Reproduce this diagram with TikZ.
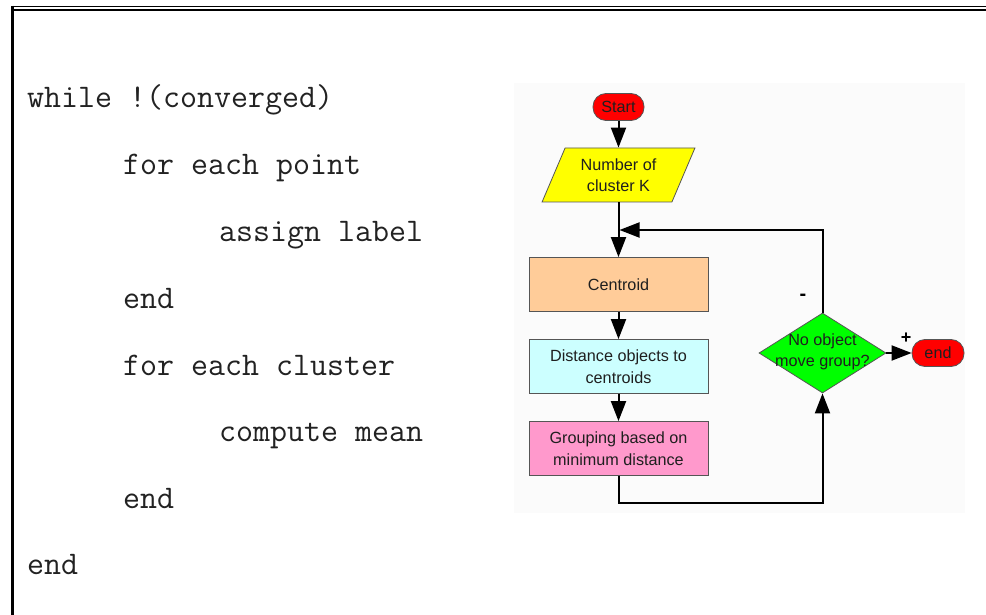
\documentclass[tikz,border=0pt]{standalone}
\usepackage{fontspec}
\setmainfont{Liberation Sans}
\usetikzlibrary{arrows.meta,shapes.geometric}

\definecolor{codeink}{HTML}{222222}
\definecolor{boxline}{HTML}{555555}
\definecolor{panelbg}{HTML}{FBFBFB}
\definecolor{termred}{HTML}{FF0000}
\definecolor{inputyellow}{HTML}{FFFF00}
\definecolor{centroidfill}{HTML}{FFCC99}
\definecolor{distfill}{HTML}{CCFFFF}
\definecolor{groupfill}{HTML}{FF99CC}
\definecolor{decisiongreen}{HTML}{00FF00}

\tikzset{
  codeline/.style={anchor=base west, inner sep=0pt, font=\ttfamily\fontsize{33}{34}\selectfont, text=codeink},
  flowtext/.style={font=\fontsize{16.2}{21.5}\selectfont, text=black!88, align=center},
  terminal/.style={flowtext, draw=boxline, line width=0.8pt, fill=termred, rounded corners=13pt,
                   minimum height=27pt, inner sep=0pt},
  procbox/.style={flowtext, draw=boxline, line width=0.8pt, minimum width=179pt, minimum height=54pt, inner sep=0pt},
  flowarrow/.style={line width=2pt, draw=black, -{Triangle[length=20pt,width=15pt]}},
}

\begin{document}
\begin{tikzpicture}[x=1pt,y=-1pt]
\useasboundingbox (0,0) rectangle (986,615);
\fill[white] (0,0) rectangle (986,615);

% page frame: double rule on top, single rule on the left
\draw[line width=1.6pt] (11,6.5) -- (986,6.5);
\draw[line width=2.4pt] (13,10.2) -- (986,10.2);
\draw[line width=3pt] (12.5,5.7) -- (12.5,615);

% pseudocode
\node[codeline] (c1) at (27,108) {while !(converged)};
\node[codeline] (c2) at (123,175) {for each point};
\node[codeline] (c3) at (219,241) {assign label};
\node[codeline] (c4) at (123,308) {end};
\node[codeline] (c5) at (123,375) {for each cluster};
\node[codeline] (c6) at (219,441) {compute mean};
\node[codeline] (c7) at (123,508) {end};
\node[codeline] (c8) at (27,574) {end};

% flowchart panel
\fill[panelbg] (514,83) rectangle (965,513);

\node[terminal, minimum width=51pt] (start) at (618.5,107) {Start};
\node[flowtext, draw=boxline, line width=0.8pt, fill=inputyellow, trapezium, trapezium stretches=true,
      trapezium left angle=64, trapezium right angle=116, minimum width=153pt, minimum height=54pt, inner sep=0pt]
      (input) at (618.5,175) {Number of\\cluster K};
\node[procbox, fill=centroidfill] (centroid) at (618.5,284.5) {Centroid};
\node[procbox, fill=distfill] (dist) at (618.5,366.5) {Distance objects to\\centroids};
\node[procbox, fill=groupfill] (group) at (618.5,448.5) {Grouping based on\\minimum distance};
\node[draw=boxline, line width=0.8pt, fill=decisiongreen, diamond, aspect=1.59,
      minimum width=127pt, minimum height=80pt, inner sep=0pt] (decide) at (822.5,353) {};
\node[flowtext] (decidetext) at (822.5,352) {No object\\move group?};
\node[terminal, minimum width=52pt] (stop) at (938,353) {end};

\coordinate (join) at (618.5,230);
\coordinate (loopup) at (822.5,230);
\coordinate (bottomleft) at (618.5,503);
\coordinate (bottomright) at (822.5,503);

\draw[flowarrow] (start) -- (input);
\draw[flowarrow] (input.center |- input.south) -- (centroid.north);
\draw[flowarrow] (centroid) -- (dist);
\draw[flowarrow] (dist) -- (group);
\draw[flowarrow] (group.south) -- (bottomleft) -- (bottomright) -- (decide.south);
\draw[flowarrow] (decide.north) -- (loopup) -- ([xshift=1pt]join);
\draw[flowarrow] (decide.east) -- (stop.west);

\node[font=\fontsize{20}{20}\selectfont\bfseries] (minus) at (803,297) {-};
\node[font=\fontsize{18}{18}\selectfont\bfseries] (plus) at (906,338) {+};
\end{tikzpicture}
\end{document}
